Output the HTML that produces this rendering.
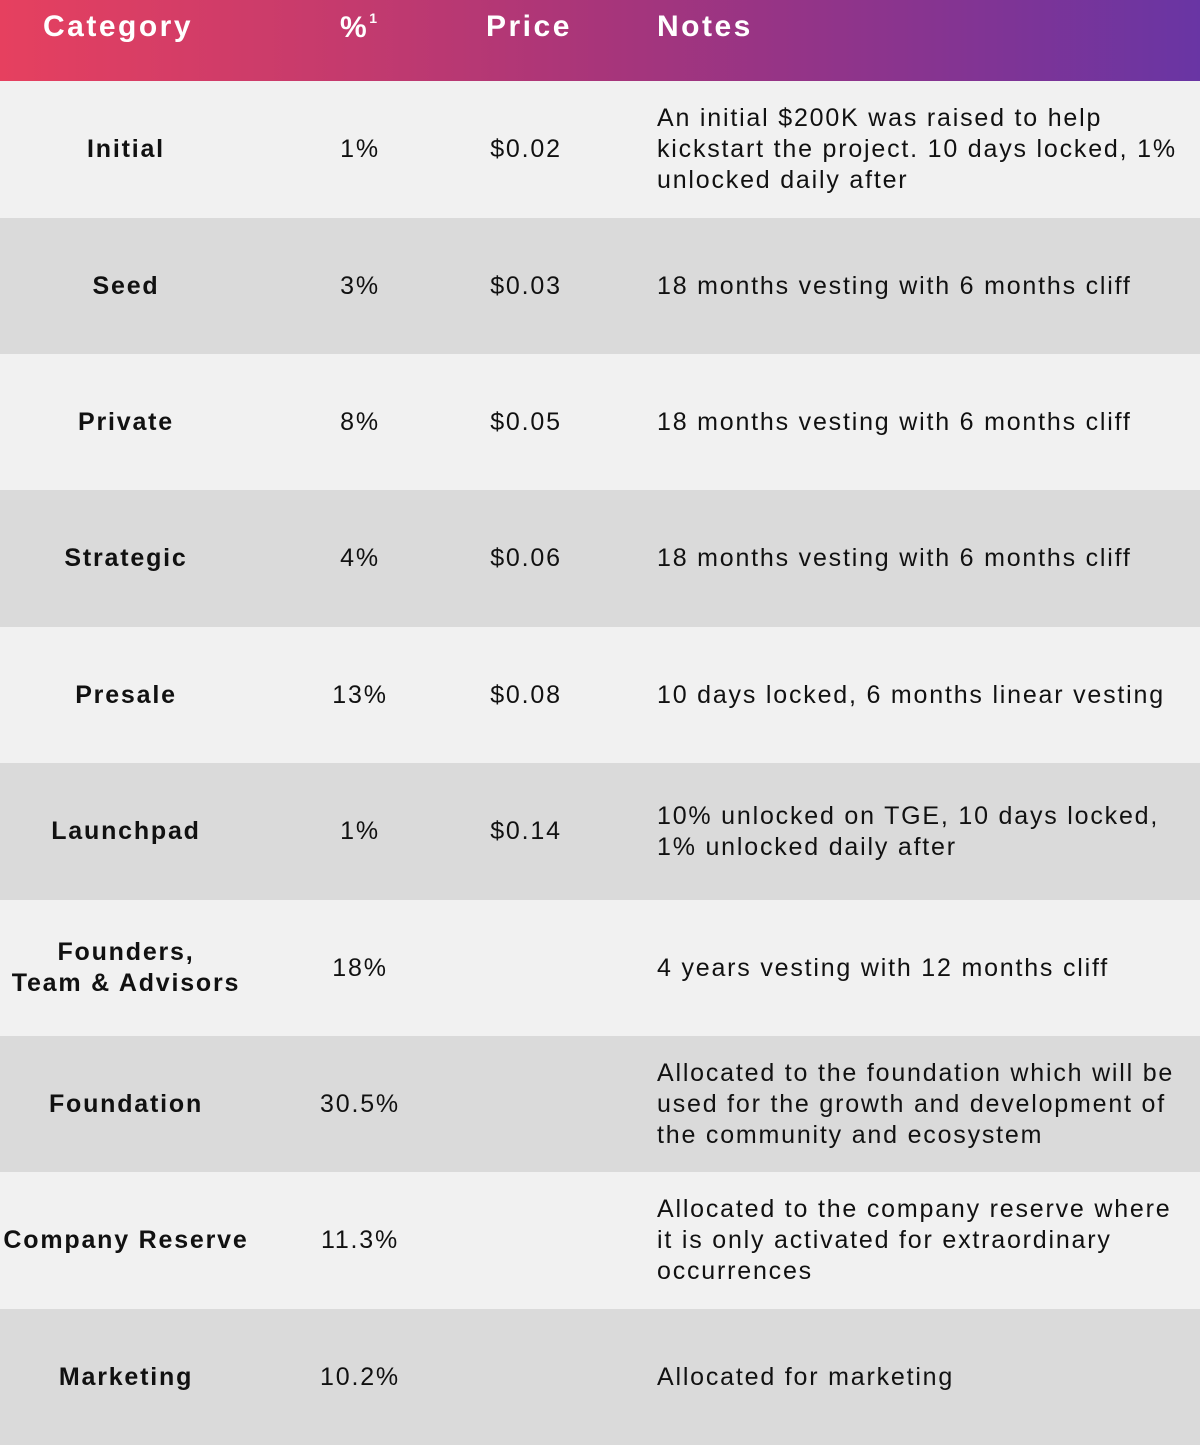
<!DOCTYPE html>
<html><head><meta charset="utf-8"><style>
body{margin:0;width:1200px;height:1397px;overflow:hidden;background:#f1f1f1;font-family:"Liberation Sans",sans-serif;}
.hdr{position:absolute;left:0;top:0;width:1200px;height:81px;background:linear-gradient(90deg,#e6405f 0%,#c33a6e 30%,#a8357a 50%,#8a348e 75%,#6935a4 100%);color:#fff;font-weight:bold;font-size:30px;letter-spacing:2.5px;}
.hdr div{position:absolute;top:10px;}
.row{position:absolute;left:0;width:1200px;}
.row div{position:absolute;top:0;height:100%;display:flex;align-items:center;color:#111;font-size:25px;letter-spacing:1.8px;white-space:nowrap;}
.c1{left:0;width:252px;justify-content:center;text-align:center;font-weight:bold;line-height:31px;}
.c2{left:300px;width:120px;justify-content:center;}
.c3{left:466px;width:120px;justify-content:center;}
.c4{left:657px;width:540px;line-height:31px;}
</style></head><body>
<div class="hdr"><div style="left:43px">Category</div><div style="left:340px">%<sup style="font-size:14px;vertical-align:14px">1</sup></div><div style="left:486px">Price</div><div style="left:657px">Notes</div></div>
<div class="row" style="top:81px;height:137px;background:#f1f1f1"><div class="c1">Initial</div><div class="c2">1%</div><div class="c3">$0.02</div><div class="c4">An initial $200K was raised to help<br>kickstart the project. 10 days locked, 1%<br>unlocked daily after</div></div>
<div class="row" style="top:218px;height:136px;background:#dadada"><div class="c1">Seed</div><div class="c2">3%</div><div class="c3">$0.03</div><div class="c4">18 months vesting with 6 months cliff</div></div>
<div class="row" style="top:354px;height:136px;background:#f1f1f1"><div class="c1">Private</div><div class="c2">8%</div><div class="c3">$0.05</div><div class="c4">18 months vesting with 6 months cliff</div></div>
<div class="row" style="top:490px;height:137px;background:#dadada"><div class="c1">Strategic</div><div class="c2">4%</div><div class="c3">$0.06</div><div class="c4">18 months vesting with 6 months cliff</div></div>
<div class="row" style="top:627px;height:136px;background:#f1f1f1"><div class="c1">Presale</div><div class="c2">13%</div><div class="c3">$0.08</div><div class="c4">10 days locked, 6 months linear vesting</div></div>
<div class="row" style="top:763px;height:137px;background:#dadada"><div class="c1">Launchpad</div><div class="c2">1%</div><div class="c3">$0.14</div><div class="c4">10% unlocked on TGE, 10 days locked,<br>1% unlocked daily after</div></div>
<div class="row" style="top:900px;height:136px;background:#f1f1f1"><div class="c1">Founders,<br>Team &amp; Advisors</div><div class="c2">18%</div><div class="c3"></div><div class="c4">4 years vesting with 12 months cliff</div></div>
<div class="row" style="top:1036px;height:136px;background:#dadada"><div class="c1">Foundation</div><div class="c2">30.5%</div><div class="c3"></div><div class="c4">Allocated to the foundation which will be<br>used for the growth and development of<br>the community and ecosystem</div></div>
<div class="row" style="top:1172px;height:137px;background:#f1f1f1"><div class="c1">Company Reserve</div><div class="c2">11.3%</div><div class="c3"></div><div class="c4">Allocated to the company reserve where<br>it is only activated for extraordinary<br>occurrences</div></div>
<div class="row" style="top:1309px;height:136px;background:#dadada"><div class="c1">Marketing</div><div class="c2">10.2%</div><div class="c3"></div><div class="c4">Allocated for marketing</div></div>
</body></html>
